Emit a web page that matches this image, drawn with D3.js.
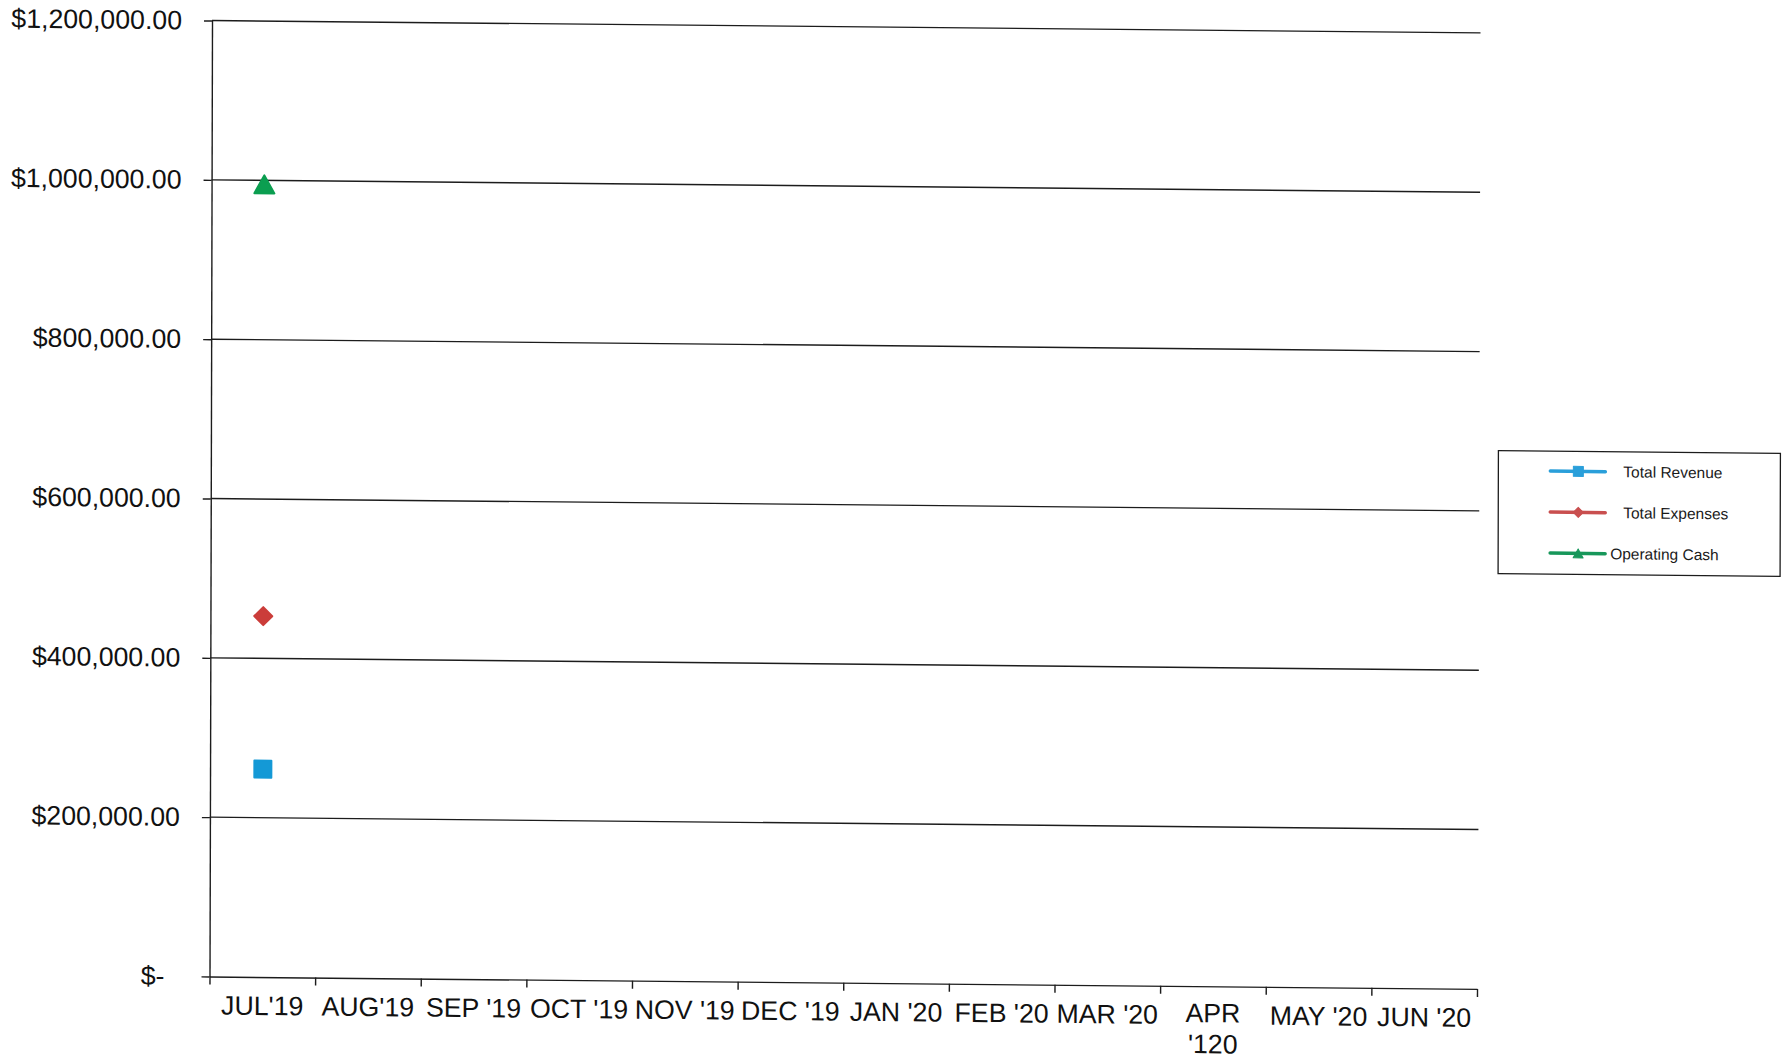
<!DOCTYPE html>
<html>
<head>
<meta charset="utf-8">
<script src="https://cdn.jsdelivr.net/npm/d3@7"></script>
<style>
  html, body { margin: 0; padding: 0; background: #ffffff; }
  svg { display: block; font-family: "Liberation Sans", Arial, sans-serif; }
</style>
</head>
<body>
<svg id="chart" width="1787" height="1062"></svg>
<script>
// Fiscal-year months (July 2019 - June 2020)
const months = ["JUL'19", "AUG'19", "SEP '19", "OCT '19", "NOV '19", "DEC '19",
                "JAN '20", "FEB '20", "MAR '20", "APR '120", "MAY '20", "JUN '20"];

// Monthly totals; only July has been reported so far
const totalRevenue  = [261000, null, null, null, null, null, null, null, null, null, null, null];
const totalExpenses = [453000, null, null, null, null, null, null, null, null, null, null, null];
const operatingCash = [995000, null, null, null, null, null, null, null, null, null, null, null];

const seriesNames = ["Total Revenue", "Total Expenses", "Operating Cash"];

// Value axis ticks
const yTicks = [0, 200000, 400000, 600000, 800000, 1000000, 1200000];

// ---- layout ----
const plotLeft = 209.5, plotRight = 1477, plotTop = 20.5, plotBottom = 976.5;
const skewYDeg = 0.56, skewXDeg = -0.15;   // the page sits slightly askew
const ink = "#1c1c1c";
const tickFont = "26.7px";

const series = [
  { name: seriesNames[0], values: totalRevenue,  color: "#1499d6", legendColor: "#2a9fda", shape: "square"   },
  { name: seriesNames[1], values: totalExpenses, color: "#cb3d3a", legendColor: "#c94f4f", shape: "diamond"  },
  { name: seriesNames[2], values: operatingCash, color: "#0b9e50", legendColor: "#17975a", shape: "triangle" }
];

const svg = d3.select("#chart");
const root = svg.append("g")
  .attr("transform",
    `translate(${plotLeft},${plotBottom}) skewY(${skewYDeg}) skewX(${skewXDeg}) translate(${-plotLeft},${-plotBottom})`);

const x = d3.scaleBand().domain(months).range([plotLeft, plotRight]).padding(0);
const xEdge = d3.scaleLinear().domain([0, months.length]).range([plotLeft, plotRight]);
const y = d3.scaleLinear().domain([0, 1200000]).range([plotBottom, plotTop]);

const money = d3.format("$,.2f");
const fmt = v => v === 0 ? "$-" : money(v);

// horizontal gridlines
root.append("g")
  .selectAll("line")
  .data(yTicks.filter(v => v > 0))
  .join("line")
  .attr("x1", plotLeft).attr("x2", plotRight + 1)
  .attr("y1", d => y(d)).attr("y2", d => y(d))
  .attr("stroke", ink).attr("stroke-width", 1.4);

// value axis
const yAxis = root.append("g")
  .attr("transform", `translate(${plotLeft},0)`)
  .call(d3.axisLeft(y).tickValues(yTicks).tickSize(8).tickSizeOuter(0).tickPadding(21).tickFormat(fmt));
yAxis.select(".domain").attr("stroke", ink).attr("stroke-width", 1.4);
yAxis.selectAll(".tick line").attr("stroke", ink).attr("stroke-width", 1.4);
yAxis.selectAll(".tick text")
  .attr("fill", "#111")
  .style("font-size", tickFont)
  .style("font-family", "'Liberation Sans', Arial, sans-serif")
  .attr("x", d => d === 0 ? -45 : -30);

// category axis: ticks on the month boundaries
const xAxis = root.append("g")
  .attr("transform", `translate(0,${plotBottom})`)
  .call(d3.axisBottom(xEdge).tickValues(d3.range(months.length + 1)).tickSize(8).tickSizeOuter(0).tickFormat(""));
xAxis.select(".domain").attr("stroke", ink).attr("stroke-width", 1.4);
xAxis.selectAll(".tick line").attr("stroke", ink).attr("stroke-width", 1.4);

// month labels, wrapped when wider than a month slot
const labelG = root.append("g");
months.forEach(m => {
  const cx = x(m) + x.bandwidth() / 2;
  const t = labelG.append("text")
    .attr("x", cx).attr("y", plotBottom + 38)
    .attr("text-anchor", "middle")
    .attr("fill", "#111")
    .style("font-size", tickFont)
    .text(m);
  if (t.node().getComputedTextLength() > x.bandwidth() - 2) {
    const words = m.split(" ");
    t.text(null);
    words.forEach((w, i) => {
      t.append("tspan").attr("x", cx).attr("dy", i === 0 ? -2 : 31).text(w);
    });
  }
});

// markers
function shapePath(shape, s) {
  const h = s / 2;
  if (shape === "square") return `M${-h},${-h}H${h}V${h}H${-h}Z`;
  if (shape === "diamond") return `M0,${-h}L${h},0L0,${h}L${-h},0Z`;
  return `M0,${-h * 0.9}L${h},${h * 0.9}L${-h},${h * 0.9}Z`;
}
const markerSize = { square: 17, diamond: 18, triangle: 20 };

series.forEach(s => {
  const pts = months.map((m, i) => ({ m, v: s.values[i] })).filter(d => d.v != null);
  // connecting line (appears once more than one month is reported)
  root.append("path")
    .datum(pts)
    .attr("fill", "none")
    .attr("stroke", s.color)
    .attr("stroke-width", 3.5)
    .attr("d", d3.line().x(d => x(d.m) + x.bandwidth() / 2).y(d => y(d.v)));
  root.append("g")
    .selectAll("path")
    .data(pts)
    .join("path")
    .attr("transform", d => `translate(${x(d.m) + x.bandwidth() / 2},${y(d.v)})`)
    .attr("d", shapePath(s.shape, markerSize[s.shape]))
    .attr("fill", s.color)
    .attr("stroke", s.color)
    .attr("stroke-width", 2)
    .attr("stroke-linejoin", "round");
});

// legend
const lg = root.append("g").attr("transform", "translate(1497,438)");
lg.append("rect")
  .attr("x", 0).attr("y", 0).attr("width", 282).attr("height", 123)
  .attr("fill", "#fff").attr("stroke", ink).attr("stroke-width", 1.3);
const textX = [125, 125, 112];
series.forEach((s, i) => {
  const ry = 20 + i * 41;
  lg.append("line")
    .attr("x1", 52).attr("x2", 107).attr("y1", ry).attr("y2", ry)
    .attr("stroke", s.legendColor).attr("stroke-width", 3.5).attr("stroke-linecap", "round");
  lg.append("path")
    .attr("transform", `translate(80,${ry})`)
    .attr("d", shapePath(s.shape, 10))
    .attr("fill", s.legendColor).attr("stroke", s.legendColor).attr("stroke-width", 1)
    .attr("stroke-linejoin", "round");
  lg.append("text")
    .attr("x", textX[i]).attr("y", ry + 5.5)
    .attr("fill", "#1a1a1a")
    .style("font-size", "15.5px")
    .text(s.name);
});
</script>
</body>
</html>
